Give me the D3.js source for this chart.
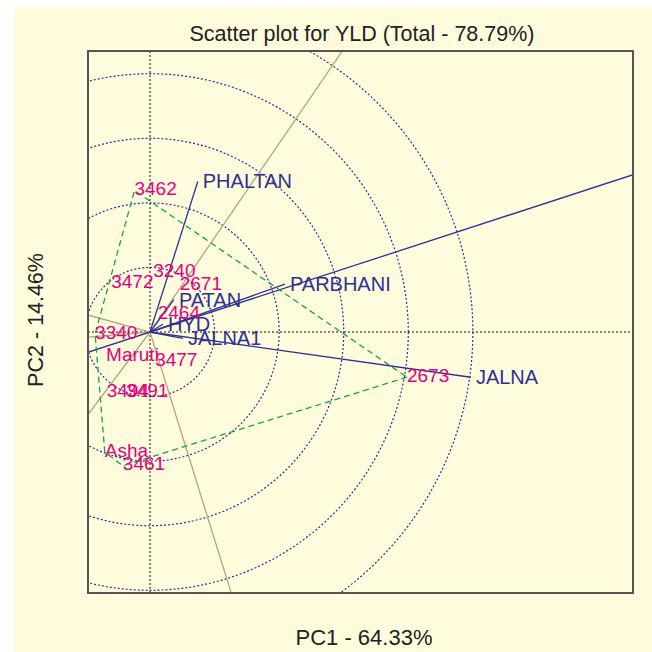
<!DOCTYPE html>
<html>
<head>
<meta charset="utf-8">
<script src="https://cdn.jsdelivr.net/npm/d3@7"></script>
<style>
  body { margin: 0; background: #fff; }
  text { font-family: "Liberation Sans", Arial, sans-serif; }
</style>
</head>
<body>
<div id="chart"></div>
<script>
// genotype scores (PC1, PC2)
const genoNames = ['3462', '2673', '3461', 'Asha', '3340', '3472', '3240', '2671', '2464', 'Maruti', '3477', '3494', '3491']
const genoPC1 = [-0.24, 3.98, -0.42, -0.70, -0.85, -0.60, 0.05, 0.46, 0.12, -0.68, 0.08, -0.67, -0.37]
const genoPC2 = [2.19, -0.70, -2.07, -1.86, -0.03, 0.76, 0.93, 0.73, 0.28, -0.37, -0.46, -0.93, -0.93]

// environment scores (PC1, PC2)
const envNames = ['PHALTAN', 'PARBHANI', 'JALNA', 'PATAN', 'HYD', 'JALNA1']
const envPC1 = [0.74, 2.09, 4.97, 0.37, 0.20, 0.51]
const envPC2 = [2.33, 0.74, -0.70, 0.50, 0.12, -0.10]

const circleRadii = [1, 2, 3, 4, 5]

const title = 'Scatter plot for YLD (Total - 78.79%)'
const xLabel = 'PC1 - 64.33%'
const yLabel = 'PC2 - 14.46%'

const fullWidth = 652
const fullHeight = 652
const margin = { top: 51, right: 19, bottom: 59, left: 88 }
const width = fullWidth - margin.left - margin.right
const height = fullHeight - margin.top - margin.bottom

const svg = d3.select('#chart')
    .append('svg')
    .attr('width', fullWidth)
    .attr('height', fullHeight)

svg.append('rect')
    .attr('x', 14)
    .attr('y', 7)
    .attr('width', fullWidth - 14)
    .attr('height', fullHeight - 7)
    .attr('fill', '#fffbdd')

const g = svg.append('g')
    .attr('transform', 'translate(' + margin.left + ',' + margin.top + ')')

const x = d3.scaleLinear().domain([-0.96, 7.48]).range([0, width])
const y = d3.scaleLinear().domain([-4.04, 4.35]).range([height, 0])

g.append('clipPath')
    .attr('id', 'plot-clip')
    .append('rect')
    .attr('width', width)
    .attr('height', height)

const plot = g.append('g').attr('clip-path', 'url(#plot-clip)')

const genos = genoNames.map((n, i) => ({ name: n, pc1: genoPC1[i], pc2: genoPC2[i] }))
const envs = envNames.map((n, i) => ({ name: n, pc1: envPC1[i], pc2: envPC2[i] }))

// concentric circles
const unit = x(1) - x(0)
plot.selectAll('circle.ring')
    .data(circleRadii)
    .enter()
    .append('circle')
    .attr('class', 'ring')
    .attr('cx', x(0))
    .attr('cy', y(0))
    .attr('r', d => d * unit)
    .attr('fill', 'none')
    .attr('stroke', '#2e3192')
    .attr('stroke-width', 1.2)
    .attr('stroke-dasharray', '2,2')

// dotted axes through origin
plot.append('line')
    .attr('x1', 0).attr('x2', width)
    .attr('y1', y(0)).attr('y2', y(0))
    .attr('stroke', '#111').attr('stroke-width', 1).attr('stroke-dasharray', '2,2')
plot.append('line')
    .attr('x1', x(0)).attr('x2', x(0))
    .attr('y1', 0).attr('y2', height)
    .attr('stroke', '#111').attr('stroke-width', 1).attr('stroke-dasharray', '2,2')

// polygon (convex hull of genotypes)
const hull = d3.polygonHull(genos.map(d => [d.pc1, d.pc2]))

// rays perpendicular to each polygon side
const rays = hull.map((a, i) => {
    const b = hull[(i + 1) % hull.length]
    let nx = b[1] - a[1], ny = -(b[0] - a[0])
    if (nx * a[0] + ny * a[1] < 0) { nx = -nx; ny = -ny }
    const len = Math.hypot(nx, ny)
    return [nx / len * 20, ny / len * 20]
})

plot.selectAll('line.ray')
    .data(rays)
    .enter()
    .append('line')
    .attr('class', 'ray')
    .attr('x1', x(0)).attr('y1', y(0))
    .attr('x2', d => x(d[0])).attr('y2', d => y(d[1]))
    .attr('stroke', '#b2a67e')
    .attr('stroke-width', 1.3)

// average environment axis through origin
const meanEnv = [d3.mean(envs, d => d.pc1), d3.mean(envs, d => d.pc2)]
const k = 20 / Math.hypot(meanEnv[0], meanEnv[1])
plot.append('line')
    .attr('x1', x(-meanEnv[0] * k)).attr('y1', y(-meanEnv[1] * k))
    .attr('x2', x(meanEnv[0] * k)).attr('y2', y(meanEnv[1] * k))
    .attr('stroke', '#2e3192')
    .attr('stroke-width', 1.3)

plot.append('path')
    .datum(hull)
    .attr('d', d3.line().x(d => x(d[0])).y(d => y(d[1])).curve(d3.curveLinearClosed))
    .attr('fill', 'none')
    .attr('stroke', '#16a34a')
    .attr('stroke-width', 1.3)
    .attr('stroke-dasharray', '6,4')

// environment vectors
plot.selectAll('line.env')
    .data(envs)
    .enter()
    .append('line')
    .attr('class', 'env')
    .attr('x1', x(0)).attr('y1', y(0))
    .attr('x2', d => x(d.pc1)).attr('y2', d => y(d.pc2))
    .attr('stroke', '#2e3192')
    .attr('stroke-width', 1.3)

g.selectAll('text.env')
    .data(envs)
    .enter()
    .append('text')
    .attr('class', 'env')
    .attr('x', d => x(d.pc1) + 5)
    .attr('y', d => y(d.pc2))
    .attr('dy', '0.35em')
    .attr('font-size', 20)
    .attr('fill', '#2e3192')
    .text(d => d.name)

g.selectAll('text.geno')
    .data(genos)
    .enter()
    .append('text')
    .attr('class', 'geno')
    .attr('x', d => x(d.pc1))
    .attr('y', d => y(d.pc2))
    .attr('dy', '0.25em')
    .attr('font-size', 19)
    .attr('fill', '#e6007e')
    .text(d => d.name)

// frame
g.append('rect')
    .attr('width', width)
    .attr('height', height)
    .attr('fill', 'none')
    .attr('stroke', '#555')
    .attr('stroke-width', 2)

svg.append('text')
    .attr('x', 362).attr('y', 40.5)
    .attr('text-anchor', 'middle')
    .attr('font-size', 21.5)
    .attr('fill', '#222')
    .text(title)

svg.append('text')
    .attr('x', 364).attr('y', 645)
    .attr('text-anchor', 'middle')
    .attr('font-size', 22)
    .attr('fill', '#222')
    .text(xLabel)

svg.append('text')
    .attr('transform', 'translate(43,320) rotate(-90)')
    .attr('text-anchor', 'middle')
    .attr('font-size', 21.5)
    .attr('fill', '#222')
    .text(yLabel)
</script>
</body>
</html>
